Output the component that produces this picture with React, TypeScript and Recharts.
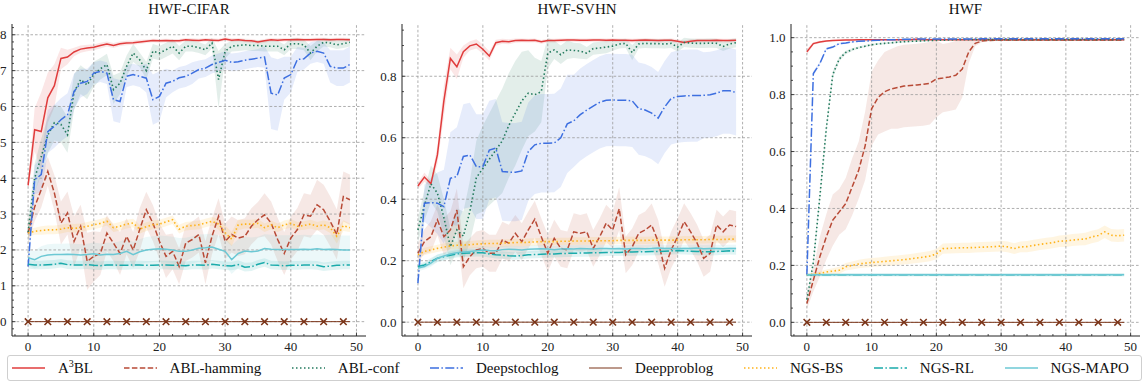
import React from 'react'
import { Area, ComposedChart, Line, ReferenceLine, XAxis, YAxis } from 'recharts'

// epochs on the x axis
const epochs = [
  0, 1, 2, 3, 4, 5, 6, 7, 8, 9, 10, 11, 12, 13, 14, 15, 16, 17, 18, 19, 20, 21, 22, 23, 24,
  25, 26, 27, 28, 29, 30, 31, 32, 33, 34, 35, 36, 37, 38, 39, 40, 41, 42, 43, 44, 45, 46, 47, 48, 49,
]

const xTicks = [0, 10, 20, 30, 40, 50]
const cifarYTicks = [0, 0.1, 0.2, 0.3, 0.4, 0.5, 0.6, 0.7, 0.8]
const svhnYTicks = [0, 0.2, 0.4, 0.6, 0.8]
const hwfYTicks = [0, 0.2, 0.4, 0.6, 0.8, 1.0]

const zeros = [
  0, 0, 0, 0, 0, 0, 0, 0, 0, 0, 0, 0, 0, 0, 0, 0, 0, 0, 0, 0, 0, 0, 0, 0, 0,
  0, 0, 0, 0, 0, 0, 0, 0, 0, 0, 0, 0, 0, 0, 0, 0, 0, 0, 0, 0, 0, 0, 0, 0, 0,
]

// ---------- HWF-CIFAR ----------
const cifarA3bl = [
  0.38, 0.535, 0.53, 0.624, 0.658, 0.734, 0.738, 0.752, 0.76, 0.763,
  0.765, 0.77, 0.774, 0.77, 0.775, 0.777, 0.778, 0.78, 0.782, 0.784,
  0.783, 0.784, 0.783, 0.783, 0.786, 0.785, 0.784, 0.786, 0.785, 0.784,
  0.788, 0.785, 0.786, 0.784, 0.783, 0.78, 0.783, 0.786, 0.785, 0.786,
  0.786, 0.787, 0.786, 0.786, 0.787, 0.787, 0.786, 0.787, 0.787, 0.786,
]
const cifarA3blSd = [
  0.01, 0.06, 0.11, 0.07, 0.06, 0.03, 0.02, 0.012, 0.01, 0.009,
  0.008, 0.008, 0.007, 0.007, 0.006, 0.006, 0.006, 0.006, 0.005, 0.005,
  0.005, 0.005, 0.005, 0.005, 0.005, 0.005, 0.005, 0.005, 0.005, 0.005,
  0.005, 0.005, 0.005, 0.005, 0.005, 0.005, 0.005, 0.005, 0.005, 0.005,
  0.005, 0.005, 0.005, 0.005, 0.005, 0.005, 0.005, 0.005, 0.005, 0.005,
]
const cifarAblHam = [
  0.247, 0.32, 0.368, 0.419, 0.359, 0.275, 0.303, 0.224, 0.266, 0.168,
  0.182, 0.19, 0.247, 0.219, 0.19, 0.238, 0.2, 0.257, 0.312, 0.275,
  0.224, 0.182, 0.196, 0.154, 0.219, 0.229, 0.243, 0.164, 0.238, 0.294,
  0.224, 0.243, 0.233, 0.238, 0.266, 0.284, 0.298, 0.275, 0.229, 0.19,
  0.233, 0.257, 0.298, 0.294, 0.326, 0.312, 0.28, 0.243, 0.349, 0.34,
]
const cifarAblHamSd = [
  0.03, 0.04, 0.05, 0.04, 0.05, 0.06, 0.06, 0.07, 0.06, 0.08,
  0.07, 0.06, 0.05, 0.05, 0.06, 0.05, 0.05, 0.06, 0.05, 0.05,
  0.05, 0.06, 0.05, 0.05, 0.05, 0.05, 0.05, 0.06, 0.05, 0.05,
  0.05, 0.05, 0.05, 0.05, 0.05, 0.05, 0.06, 0.06, 0.06, 0.06,
  0.06, 0.06, 0.06, 0.06, 0.07, 0.07, 0.07, 0.07, 0.07, 0.07,
]
const cifarAblConf = [
  0.25, 0.4, 0.46, 0.52, 0.555, 0.55, 0.521, 0.64, 0.675, 0.66,
  0.69, 0.705, 0.717, 0.647, 0.665, 0.712, 0.749, 0.73, 0.7, 0.754,
  0.749, 0.758, 0.768, 0.749, 0.768, 0.768, 0.764, 0.758, 0.777, 0.675,
  0.754, 0.768, 0.77, 0.772, 0.77, 0.77, 0.768, 0.768, 0.768, 0.758,
  0.775, 0.775, 0.772, 0.749, 0.768, 0.779, 0.777, 0.772, 0.775, 0.779,
]
const cifarAblConfSd = [
  0.03, 0.04, 0.05, 0.05, 0.05, 0.05, 0.05, 0.05, 0.04, 0.04,
  0.035, 0.03, 0.03, 0.04, 0.03, 0.03, 0.025, 0.02, 0.025, 0.02,
  0.02, 0.02, 0.02, 0.02, 0.015, 0.015, 0.015, 0.015, 0.015, 0.08,
  0.02, 0.015, 0.015, 0.015, 0.015, 0.015, 0.015, 0.015, 0.015, 0.015,
  0.015, 0.015, 0.015, 0.02, 0.015, 0.012, 0.012, 0.012, 0.012, 0.012,
]
const cifarDeepStoch = [
  0.154, 0.396, 0.41, 0.53, 0.545, 0.563, 0.577, 0.642, 0.665, 0.67,
  0.693, 0.698, 0.693, 0.619, 0.614, 0.684, 0.689, 0.684, 0.679, 0.619,
  0.628, 0.665, 0.67, 0.68, 0.684, 0.693, 0.703, 0.707, 0.717, 0.723,
  0.729, 0.723, 0.725, 0.729, 0.732, 0.735, 0.738, 0.637, 0.632, 0.679,
  0.689, 0.731, 0.733, 0.749, 0.754, 0.749, 0.712, 0.707, 0.707, 0.717,
]
const cifarDeepStochSd = [
  0.02, 0.04, 0.05, 0.06, 0.06, 0.06, 0.06, 0.05, 0.04, 0.035,
  0.03, 0.03, 0.03, 0.06, 0.06, 0.03, 0.03, 0.03, 0.04, 0.07,
  0.07, 0.04, 0.03, 0.03, 0.03, 0.03, 0.025, 0.025, 0.025, 0.025,
  0.025, 0.025, 0.025, 0.025, 0.025, 0.025, 0.03, 0.1, 0.1, 0.06,
  0.05, 0.035, 0.03, 0.03, 0.03, 0.03, 0.045, 0.05, 0.05, 0.05,
]
const cifarNgsBs = [
  0.247, 0.252, 0.254, 0.256, 0.256, 0.258, 0.262, 0.26, 0.262, 0.266,
  0.27, 0.274, 0.28, 0.262, 0.266, 0.272, 0.275, 0.258, 0.265, 0.27,
  0.272, 0.278, 0.284, 0.258, 0.266, 0.268, 0.27, 0.275, 0.28, 0.272,
  0.248, 0.23, 0.27, 0.272, 0.272, 0.274, 0.262, 0.27, 0.262, 0.27,
  0.274, 0.266, 0.268, 0.272, 0.266, 0.27, 0.262, 0.238, 0.268, 0.262,
]
const cifarNgsBsSd = [
  0.01, 0.01, 0.012, 0.012, 0.012, 0.012, 0.012, 0.012, 0.012, 0.012,
  0.012, 0.012, 0.012, 0.012, 0.012, 0.012, 0.012, 0.012, 0.012, 0.012,
  0.012, 0.012, 0.012, 0.012, 0.012, 0.012, 0.012, 0.012, 0.012, 0.015,
  0.02, 0.02, 0.015, 0.012, 0.012, 0.012, 0.012, 0.012, 0.012, 0.012,
  0.012, 0.012, 0.012, 0.012, 0.012, 0.012, 0.015, 0.02, 0.015, 0.012,
]
const cifarNgsRl = [
  0.16, 0.158, 0.158, 0.159, 0.16, 0.163, 0.159, 0.158, 0.158, 0.159,
  0.157, 0.156, 0.158, 0.158, 0.157, 0.157, 0.158, 0.158, 0.157, 0.157,
  0.158, 0.158, 0.157, 0.157, 0.156, 0.158, 0.158, 0.157, 0.16, 0.158,
  0.156, 0.155, 0.159, 0.152, 0.153, 0.16, 0.165, 0.158, 0.157, 0.156,
  0.157, 0.157, 0.158, 0.158, 0.157, 0.153, 0.155, 0.157, 0.158, 0.158,
]
const cifarNgsRlSd = [
  0.012, 0.012, 0.012, 0.012, 0.012, 0.012, 0.012, 0.012, 0.012, 0.012,
  0.012, 0.012, 0.012, 0.012, 0.012, 0.012, 0.012, 0.012, 0.012, 0.012,
  0.012, 0.012, 0.012, 0.012, 0.012, 0.012, 0.012, 0.012, 0.012, 0.012,
  0.012, 0.012, 0.012, 0.012, 0.012, 0.012, 0.012, 0.012, 0.012, 0.012,
  0.012, 0.012, 0.012, 0.012, 0.012, 0.012, 0.012, 0.012, 0.012, 0.012,
]
const cifarNgsMapo = [
  0.178, 0.173, 0.182, 0.186, 0.187, 0.187, 0.188, 0.187, 0.186, 0.187,
  0.189, 0.186, 0.188, 0.187, 0.19, 0.196, 0.187, 0.195, 0.2, 0.202,
  0.203, 0.202, 0.2, 0.196, 0.196, 0.2, 0.205, 0.206, 0.208, 0.202,
  0.196, 0.173, 0.19, 0.197, 0.195, 0.197, 0.204, 0.202, 0.201, 0.201,
  0.201, 0.201, 0.202, 0.201, 0.203, 0.201, 0.202, 0.201, 0.2, 0.2,
]
const cifarNgsMapoSd = [
  0.02, 0.025, 0.028, 0.03, 0.03, 0.03, 0.03, 0.03, 0.03, 0.03,
  0.032, 0.032, 0.032, 0.033, 0.034, 0.035, 0.035, 0.035, 0.036, 0.036,
  0.037, 0.037, 0.037, 0.037, 0.038, 0.038, 0.038, 0.038, 0.038, 0.038,
  0.038, 0.04, 0.04, 0.04, 0.04, 0.04, 0.04, 0.04, 0.04, 0.04,
  0.04, 0.04, 0.04, 0.04, 0.04, 0.04, 0.04, 0.04, 0.04, 0.04,
]

// ---------- HWF-SVHN ----------
const svhnA3bl = [
  0.443, 0.472, 0.45, 0.544, 0.72, 0.858, 0.831, 0.88, 0.899, 0.905,
  0.888, 0.866, 0.909, 0.914, 0.912, 0.916, 0.917, 0.916, 0.917, 0.912,
  0.916, 0.916, 0.917, 0.918, 0.918, 0.917, 0.917, 0.918, 0.918, 0.917,
  0.918, 0.917, 0.917, 0.916, 0.917, 0.918, 0.917, 0.916, 0.917, 0.917,
  0.914, 0.91, 0.914, 0.916, 0.916, 0.916, 0.917, 0.916, 0.916, 0.917,
]
const svhnA3blSd = [
  0.01, 0.015, 0.01, 0.03, 0.05, 0.035, 0.04, 0.02, 0.015, 0.015,
  0.015, 0.015, 0.01, 0.008, 0.008, 0.007, 0.006, 0.006, 0.006, 0.006,
  0.006, 0.006, 0.006, 0.006, 0.006, 0.006, 0.006, 0.006, 0.006, 0.006,
  0.006, 0.006, 0.006, 0.006, 0.006, 0.006, 0.006, 0.006, 0.006, 0.006,
  0.006, 0.006, 0.006, 0.006, 0.006, 0.006, 0.006, 0.006, 0.006, 0.006,
]
const svhnAblHam = [
  0.224, 0.262, 0.278, 0.333, 0.278, 0.3, 0.365, 0.18, 0.213, 0.235,
  0.24, 0.224, 0.224, 0.267, 0.257, 0.289, 0.262, 0.3, 0.335, 0.278,
  0.224, 0.273, 0.24, 0.235, 0.294, 0.289, 0.294, 0.24, 0.278, 0.322,
  0.3, 0.369, 0.219, 0.245, 0.289, 0.3, 0.316, 0.262, 0.175, 0.235,
  0.278, 0.327, 0.294, 0.257, 0.208, 0.224, 0.316, 0.294, 0.316, 0.311,
]
const svhnAblHamSd = [
  0.03, 0.04, 0.05, 0.05, 0.06, 0.06, 0.07, 0.07, 0.06, 0.06,
  0.06, 0.06, 0.06, 0.06, 0.06, 0.06, 0.06, 0.06, 0.06, 0.06,
  0.06, 0.06, 0.06, 0.06, 0.06, 0.06, 0.06, 0.06, 0.06, 0.06,
  0.06, 0.07, 0.06, 0.06, 0.06, 0.06, 0.07, 0.07, 0.06, 0.06,
  0.06, 0.06, 0.06, 0.06, 0.06, 0.06, 0.05, 0.05, 0.05, 0.05,
]
const svhnAblConf = [
  0.3, 0.38, 0.45, 0.42, 0.34, 0.245, 0.3, 0.28, 0.36, 0.47,
  0.5, 0.53, 0.56, 0.59, 0.64, 0.68, 0.72, 0.745, 0.74, 0.75,
  0.875, 0.886, 0.87, 0.886, 0.884, 0.882, 0.875, 0.89, 0.892, 0.895,
  0.898, 0.905, 0.907, 0.877, 0.905, 0.907, 0.906, 0.906, 0.905, 0.907,
  0.895, 0.91, 0.908, 0.907, 0.907, 0.908, 0.907, 0.897, 0.905, 0.909,
]
const svhnAblConfSd = [
  0.04, 0.05, 0.06, 0.06, 0.06, 0.06, 0.07, 0.08, 0.1, 0.12,
  0.14, 0.15, 0.16, 0.17, 0.17, 0.17, 0.16, 0.14, 0.12, 0.1,
  0.05, 0.03, 0.03, 0.03, 0.025, 0.025, 0.02, 0.02, 0.02, 0.02,
  0.015, 0.015, 0.015, 0.025, 0.015, 0.015, 0.015, 0.015, 0.015, 0.015,
  0.015, 0.015, 0.015, 0.015, 0.015, 0.015, 0.015, 0.015, 0.015, 0.015,
]
const svhnDeepStoch = [
  0.127, 0.387, 0.389, 0.387, 0.376, 0.468, 0.474, 0.539, 0.544, 0.506,
  0.506, 0.56, 0.566, 0.49, 0.488, 0.488, 0.492, 0.555, 0.577, 0.582,
  0.582, 0.583, 0.6, 0.645, 0.655, 0.675, 0.69, 0.703, 0.715, 0.722,
  0.723, 0.722, 0.722, 0.72, 0.695, 0.69, 0.68, 0.664, 0.7, 0.728,
  0.734, 0.736, 0.737, 0.737, 0.738, 0.74, 0.745, 0.753, 0.753, 0.747,
]
const svhnDeepStochSd = [
  0.02, 0.06, 0.08, 0.1, 0.12, 0.15, 0.16, 0.17, 0.17, 0.17,
  0.17, 0.16, 0.16, 0.16, 0.16, 0.16, 0.16, 0.16, 0.16, 0.16,
  0.16, 0.16, 0.16, 0.16, 0.15, 0.15, 0.15, 0.15, 0.15, 0.15,
  0.15, 0.15, 0.15, 0.15, 0.15, 0.15, 0.15, 0.15, 0.15, 0.15,
  0.15, 0.15, 0.15, 0.15, 0.14, 0.14, 0.14, 0.14, 0.14, 0.14,
]
const svhnNgsBs = [
  0.219, 0.23, 0.235, 0.24, 0.244, 0.248, 0.25, 0.251, 0.252, 0.254,
  0.255, 0.256, 0.256, 0.257, 0.258, 0.259, 0.259, 0.26, 0.261, 0.262,
  0.262, 0.262, 0.263, 0.263, 0.264, 0.264, 0.264, 0.265, 0.265, 0.265,
  0.265, 0.266, 0.266, 0.266, 0.266, 0.266, 0.267, 0.267, 0.267, 0.267,
  0.267, 0.268, 0.268, 0.268, 0.268, 0.269, 0.269, 0.269, 0.27, 0.27,
]
const svhnNgsBsSd = [
  0.01, 0.012, 0.012, 0.012, 0.012, 0.012, 0.012, 0.012, 0.012, 0.012,
  0.012, 0.012, 0.012, 0.012, 0.012, 0.012, 0.012, 0.012, 0.012, 0.012,
  0.012, 0.012, 0.012, 0.012, 0.012, 0.012, 0.012, 0.012, 0.012, 0.012,
  0.012, 0.012, 0.012, 0.012, 0.012, 0.012, 0.012, 0.012, 0.012, 0.012,
  0.012, 0.012, 0.012, 0.012, 0.012, 0.012, 0.012, 0.012, 0.012, 0.012,
]
const svhnNgsRl = [
  0.181, 0.186, 0.197, 0.208, 0.213, 0.218, 0.222, 0.224, 0.225, 0.226,
  0.226, 0.222, 0.219, 0.218, 0.216, 0.215, 0.217, 0.219, 0.22, 0.221,
  0.222, 0.222, 0.223, 0.224, 0.224, 0.225, 0.225, 0.226, 0.226, 0.227,
  0.227, 0.227, 0.228, 0.228, 0.229, 0.229, 0.23, 0.23, 0.231, 0.232,
  0.233, 0.232, 0.231, 0.23, 0.229, 0.229, 0.23, 0.231, 0.232, 0.231,
]
const svhnNgsMapo = [
  0.176, 0.181, 0.192, 0.208, 0.215, 0.222, 0.226, 0.228, 0.23, 0.232,
  0.235, 0.233, 0.232, 0.236, 0.237, 0.236, 0.235, 0.237, 0.238, 0.239,
  0.238, 0.236, 0.238, 0.239, 0.238, 0.24, 0.239, 0.238, 0.24, 0.24,
  0.239, 0.24, 0.238, 0.24, 0.24, 0.239, 0.24, 0.241, 0.24, 0.24,
  0.239, 0.24, 0.24, 0.241, 0.239, 0.24, 0.24, 0.239, 0.24, 0.24,
]
const svhnNgsSd = [
  0.01, 0.01, 0.012, 0.012, 0.012, 0.012, 0.012, 0.012, 0.012, 0.012,
  0.012, 0.012, 0.012, 0.012, 0.012, 0.012, 0.012, 0.012, 0.012, 0.012,
  0.012, 0.012, 0.012, 0.012, 0.012, 0.012, 0.012, 0.012, 0.012, 0.012,
  0.012, 0.012, 0.012, 0.012, 0.012, 0.012, 0.012, 0.012, 0.012, 0.012,
  0.012, 0.012, 0.012, 0.012, 0.012, 0.012, 0.012, 0.012, 0.012, 0.012,
]

// ---------- HWF ----------
const hwfA3bl = [
  0.95, 0.979, 0.985, 0.988, 0.99, 0.991, 0.992, 0.992, 0.993, 0.993,
  0.993, 0.993, 0.993, 0.993, 0.993, 0.993, 0.993, 0.994, 0.993, 0.993,
  0.993, 0.993, 0.993, 0.993, 0.993, 0.993, 0.993, 0.993, 0.993, 0.993,
  0.993, 0.993, 0.993, 0.993, 0.993, 0.993, 0.993, 0.993, 0.993, 0.993,
  0.993, 0.993, 0.993, 0.993, 0.993, 0.993, 0.993, 0.993, 0.993, 0.993,
]
const hwfA3blSd = [
  0.01, 0.005, 0.004, 0.003, 0.003, 0.002, 0.002, 0.002, 0.002, 0.002,
  0.002, 0.002, 0.002, 0.002, 0.002, 0.002, 0.002, 0.002, 0.002, 0.002,
  0.002, 0.002, 0.002, 0.002, 0.002, 0.002, 0.002, 0.002, 0.002, 0.002,
  0.002, 0.002, 0.002, 0.002, 0.002, 0.002, 0.002, 0.002, 0.002, 0.002,
  0.002, 0.002, 0.002, 0.002, 0.002, 0.002, 0.002, 0.002, 0.002, 0.002,
]
const hwfAblHam = [
  0.066, 0.148, 0.23, 0.3, 0.359, 0.388, 0.417, 0.476, 0.534, 0.62,
  0.75, 0.79, 0.81, 0.82, 0.825, 0.83, 0.832, 0.834, 0.836, 0.84,
  0.855, 0.858, 0.862, 0.868, 0.89, 0.95, 0.98, 0.988, 0.99, 0.991,
  0.992, 0.992, 0.992, 0.992, 0.992, 0.992, 0.992, 0.992, 0.992, 0.992,
  0.992, 0.992, 0.992, 0.992, 0.992, 0.992, 0.992, 0.992, 0.992, 0.992,
]
const hwfAblHamSd = [
  0.02, 0.04, 0.07, 0.08, 0.09, 0.08, 0.09, 0.1, 0.1, 0.12,
  0.13, 0.13, 0.14, 0.14, 0.145, 0.145, 0.145, 0.145, 0.145, 0.145,
  0.135, 0.12, 0.12, 0.12, 0.1, 0.04, 0.01, 0.004, 0.003, 0.003,
  0.003, 0.003, 0.003, 0.003, 0.003, 0.003, 0.003, 0.003, 0.003, 0.003,
  0.003, 0.003, 0.003, 0.003, 0.003, 0.003, 0.003, 0.003, 0.003, 0.003,
]
const hwfAblConf = [
  0.08, 0.21, 0.44, 0.68, 0.87, 0.925, 0.948, 0.958, 0.965, 0.97,
  0.975, 0.978, 0.98, 0.982, 0.984, 0.986, 0.987, 0.988, 0.989, 0.99,
  0.991, 0.991, 0.992, 0.993, 0.993, 0.993, 0.993, 0.993, 0.993, 0.993,
  0.993, 0.993, 0.993, 0.993, 0.993, 0.993, 0.993, 0.993, 0.993, 0.993,
  0.993, 0.993, 0.993, 0.993, 0.993, 0.993, 0.993, 0.993, 0.993, 0.993,
]
const hwfAblConfSd = [
  0.01, 0.012, 0.015, 0.015, 0.012, 0.008, 0.006, 0.005, 0.004, 0.004,
  0.003, 0.003, 0.003, 0.003, 0.003, 0.003, 0.003, 0.003, 0.003, 0.003,
  0.003, 0.003, 0.003, 0.003, 0.003, 0.003, 0.003, 0.003, 0.003, 0.003,
  0.003, 0.003, 0.003, 0.003, 0.003, 0.003, 0.003, 0.003, 0.003, 0.003,
  0.003, 0.003, 0.003, 0.003, 0.003, 0.003, 0.003, 0.003, 0.003, 0.003,
]
const hwfDeepStoch = [
  0.168, 0.874, 0.909, 0.961, 0.967, 0.979, 0.981, 0.985, 0.987, 0.988,
  0.99, 0.991, 0.992, 0.993, 0.993, 0.994, 0.994, 0.995, 0.995, 0.995,
  0.995, 0.995, 0.995, 0.995, 0.995, 0.995, 0.995, 0.996, 0.996, 0.996,
  0.996, 0.996, 0.996, 0.996, 0.996, 0.996, 0.996, 0.996, 0.996, 0.996,
  0.996, 0.996, 0.996, 0.996, 0.996, 0.996, 0.996, 0.996, 0.996, 0.996,
]
const hwfDeepStochSd = [
  0.003, 0.008, 0.006, 0.004, 0.004, 0.003, 0.003, 0.002, 0.002, 0.002,
  0.002, 0.002, 0.002, 0.002, 0.002, 0.002, 0.002, 0.002, 0.002, 0.002,
  0.002, 0.002, 0.002, 0.002, 0.002, 0.002, 0.002, 0.002, 0.002, 0.002,
  0.002, 0.002, 0.002, 0.002, 0.002, 0.002, 0.002, 0.002, 0.002, 0.002,
  0.002, 0.002, 0.002, 0.002, 0.002, 0.002, 0.002, 0.002, 0.002, 0.002,
]
const hwfNgsBs = [
  0.167, 0.169, 0.172, 0.177, 0.18, 0.183, 0.195, 0.2, 0.205, 0.208,
  0.21, 0.212, 0.214, 0.216, 0.218, 0.22, 0.223, 0.226, 0.229, 0.233,
  0.24, 0.259, 0.26, 0.261, 0.262, 0.262, 0.263, 0.264, 0.265, 0.266,
  0.268, 0.265, 0.259, 0.265, 0.266, 0.27, 0.274, 0.277, 0.28, 0.285,
  0.286, 0.289, 0.291, 0.293, 0.3, 0.305, 0.318, 0.306, 0.304, 0.306,
]
const hwfNgsBsSd = [
  0.003, 0.005, 0.007, 0.009, 0.01, 0.012, 0.013, 0.014, 0.015, 0.015,
  0.016, 0.016, 0.016, 0.017, 0.017, 0.017, 0.017, 0.018, 0.018, 0.018,
  0.018, 0.018, 0.018, 0.018, 0.018, 0.018, 0.018, 0.018, 0.018, 0.018,
  0.019, 0.019, 0.019, 0.019, 0.02, 0.02, 0.02, 0.02, 0.02, 0.02,
  0.021, 0.021, 0.021, 0.022, 0.022, 0.022, 0.022, 0.022, 0.022, 0.022,
]
const hwfNgsFlat = [
  0.167, 0.167, 0.167, 0.167, 0.167, 0.167, 0.167, 0.167, 0.167, 0.167,
  0.167, 0.167, 0.167, 0.167, 0.167, 0.167, 0.167, 0.167, 0.167, 0.167,
  0.167, 0.167, 0.167, 0.167, 0.167, 0.167, 0.167, 0.167, 0.167, 0.167,
  0.167, 0.167, 0.167, 0.167, 0.167, 0.167, 0.167, 0.167, 0.167, 0.167,
  0.167, 0.167, 0.167, 0.167, 0.167, 0.167, 0.167, 0.167, 0.167, 0.167,
]
const hwfNgsFlatSd = [
  0.005, 0.005, 0.005, 0.005, 0.005, 0.005, 0.005, 0.005, 0.005, 0.005,
  0.005, 0.005, 0.005, 0.005, 0.005, 0.005, 0.005, 0.005, 0.005, 0.005,
  0.005, 0.005, 0.005, 0.005, 0.005, 0.005, 0.005, 0.005, 0.005, 0.005,
  0.005, 0.005, 0.005, 0.005, 0.005, 0.005, 0.005, 0.005, 0.005, 0.005,
  0.005, 0.005, 0.005, 0.005, 0.005, 0.005, 0.005, 0.005, 0.005, 0.005,
]

const series = [
  { key: 'a3bl', label: 'A3BL', color: '#e03c3c', dash: undefined, width: 1.5 },
  { key: 'ablHam', label: 'ABL-hamming', color: '#b84a36', dash: '5.5 2.4', width: 1.5 },
  { key: 'ablConf', label: 'ABL-conf', color: '#237a5d', dash: '1.5 2.5', width: 1.6 },
  { key: 'deepStoch', label: 'Deepstochlog', color: '#3d6fe0', dash: '9 2.4 1.5 2.4', width: 1.5 },
  { key: 'deepProb', label: 'Deepproblog', color: '#7b3418', dash: undefined, width: 1 },
  { key: 'ngsBs', label: 'NGS-BS', color: '#ffb31a', dash: '1.5 2.5', width: 1.6 },
  { key: 'ngsRl', label: 'NGS-RL', color: '#1aabab', dash: '9 2.4 1.5 2.4', width: 1.5 },
  { key: 'ngsMapo', label: 'NGS-MAPO', color: '#6cc8d4', dash: undefined, width: 1.5 },
]

const panels = [
  {
    title: 'HWF-CIFAR', left: -30, width: 397,
    yDomain: [-0.04, 0.83], yMajor: cifarYTicks, yMinor: [-0.02, 0.82, 0.02],
    mean: { a3bl: cifarA3bl, ablHam: cifarAblHam, ablConf: cifarAblConf, deepStoch: cifarDeepStoch, deepProb: zeros, ngsBs: cifarNgsBs, ngsRl: cifarNgsRl, ngsMapo: cifarNgsMapo },
    sd: { a3bl: cifarA3blSd, ablHam: cifarAblHamSd, ablConf: cifarAblConfSd, deepStoch: cifarDeepStochSd, ngsBs: cifarNgsBsSd, ngsRl: cifarNgsRlSd, ngsMapo: cifarNgsMapoSd },
  },
  {
    title: 'HWF-SVHN', left: 360, width: 393,
    yDomain: [-0.045, 0.97], yMajor: svhnYTicks, yMinor: [0, 0.95, 0.05],
    mean: { a3bl: svhnA3bl, ablHam: svhnAblHam, ablConf: svhnAblConf, deepStoch: svhnDeepStoch, deepProb: zeros, ngsBs: svhnNgsBs, ngsRl: svhnNgsRl, ngsMapo: svhnNgsMapo },
    sd: { a3bl: svhnA3blSd, ablHam: svhnAblHamSd, ablConf: svhnAblConfSd, deepStoch: svhnDeepStochSd, ngsBs: svhnNgsBsSd, ngsRl: svhnNgsSd, ngsMapo: svhnNgsSd },
  },
  {
    title: 'HWF', left: 749, width: 392,
    yDomain: [-0.048, 1.048], yMajor: hwfYTicks, yMinor: [0, 1.0, 0.05],
    mean: { a3bl: hwfA3bl, ablHam: hwfAblHam, ablConf: hwfAblConf, deepStoch: hwfDeepStoch, deepProb: zeros, ngsBs: hwfNgsBs, ngsRl: hwfNgsFlat, ngsMapo: hwfNgsFlat },
    sd: { a3bl: hwfA3blSd, ablHam: hwfAblHamSd, ablConf: hwfAblConfSd, deepStoch: hwfDeepStochSd, ngsBs: hwfNgsBsSd, ngsRl: hwfNgsFlatSd, ngsMapo: hwfNgsFlatSd },
  },
]

const FONT = '"Liberation Serif", "DejaVu Serif", serif'
const Y_AXIS_W = 42
const CHART_H = 360
const labelStyle = { fontFamily: FONT, fontSize: 13 }

function steps(from: number, to: number, step: number) {
  const out: number[] = []
  for (let v = from; v <= to + 1e-9; v += step) out.push(Math.round(v * 1000) / 1000)
  return out
}

const xAllTicks = steps(-2, 50, 2)

function makeTick(side: string, majors: number[], fmt?: (v: number) => string) {
  return (p: any) => {
    const v = p.payload.value
    const major = majors.some((m) => Math.abs(m - v) < 1e-6)
    const len = major ? 3.5 : 2
    const { x, y } = p
    let c = [x, y, x, y - len]
    if (side === 'top') c = [x, y, x, y + len]
    if (side === 'left') c = [x, y, x + len, y]
    if (side === 'right') c = [x, y, x - len, y]
    return (
      <g key={`${side}-${v}`}>
        <line x1={c[0]} y1={c[1]} x2={c[2]} y2={c[3]} stroke="#222" strokeWidth={0.8} />
        {major && fmt && side === 'bottom' && (
          <text x={x} y={y + 15} textAnchor="middle" style={labelStyle} fill="#222">
            {fmt(v)}
          </text>
        )}
        {major && fmt && side === 'left' && (
          <text x={x - 5.5} y={y + 4.5} textAnchor="end" style={labelStyle} fill="#222">
            {fmt(v)}
          </text>
        )}
      </g>
    )
  }
}

const crossDot = (props: any) => {
  const { cx, cy, index } = props
  if (index % 3 !== 0 || cx == null) return <g key={`m${index}`} />
  const r = 3.3
  return (
    <path
      key={`m${index}`}
      d={`M${cx - r},${cy - r}L${cx + r},${cy + r}M${cx - r},${cy + r}L${cx + r},${cy - r}`}
      stroke="#7b3418"
      strokeWidth={1.5}
      fill="none"
    />
  )
}

function Panel({ panel }: { panel: any }) {
  const rows = epochs.map((e, i) => {
    const r: any = { epoch: e }
    series.forEach((s) => {
      const m = panel.mean[s.key][i]
      r[s.key] = m
      const sd = panel.sd[s.key]
      if (sd) r[s.key + 'Band'] = [m - sd[i], m + sd[i]]
    })
    return r
  })
  const yAll = steps(panel.yMinor[0], panel.yMinor[1], panel.yMinor[2])
  const fmtY = (v: number) => v.toFixed(1)
  const plotLeft = panel.left + Y_AXIS_W
  const plotRight = panel.left + panel.width - 1

  return (
    <>
      <div
        style={{
          position: 'absolute', left: plotLeft, top: 0, width: plotRight - plotLeft,
          textAlign: 'center', fontFamily: FONT, fontSize: 15, lineHeight: '18px', color: '#111',
        }}
      >
        {panel.title}
      </div>
      <div style={{ position: 'absolute', left: panel.left, top: 0 }}>
        <ComposedChart width={panel.width} height={CHART_H} data={rows} margin={{ top: 24, right: 1, bottom: 4, left: 0 }}>
          <XAxis
            dataKey="epoch" type="number" domain={[-2.45, 51.45]} ticks={xAllTicks} interval={0}
            allowDataOverflow height={20} tickSize={0} tickMargin={0} tickLine={false}
            axisLine={{ stroke: '#222', strokeWidth: 1 }} tick={makeTick('bottom', xTicks, (v) => String(v))}
          />
          <XAxis
            xAxisId="top" orientation="top" type="number" domain={[-2.45, 51.45]} ticks={xAllTicks} interval={0}
            allowDataOverflow height={0} tickSize={0} tickMargin={0} tickLine={false}
            axisLine={{ stroke: '#222', strokeWidth: 1 }} tick={makeTick('top', xTicks)}
          />
          <YAxis
            type="number" domain={panel.yDomain} ticks={yAll} interval={0} allowDataOverflow width={Y_AXIS_W}
            tickSize={0} tickMargin={0} tickLine={false}
            axisLine={{ stroke: '#222', strokeWidth: 1 }} tick={makeTick('left', panel.yMajor, fmtY)}
          />
          <YAxis
            yAxisId="right" orientation="right" type="number" domain={panel.yDomain} ticks={yAll} interval={0}
            allowDataOverflow width={0} tickSize={0} tickMargin={0} tickLine={false}
            axisLine={{ stroke: '#222', strokeWidth: 1 }} tick={makeTick('right', panel.yMajor)}
          />
          {xTicks.map((v) => (
            <ReferenceLine key={`gx${v}`} x={v} stroke="#9a9a9a" strokeWidth={0.8} strokeDasharray="2.6 2" />
          ))}
          {panel.yMajor.map((v: number) => (
            <ReferenceLine key={`gy${v}`} y={v} stroke="#9a9a9a" strokeWidth={0.8} strokeDasharray="2.6 2" />
          ))}
          {series
            .filter((s) => panel.sd[s.key])
            .map((s) => (
              <Area
                key={`band-${s.key}`} type="linear" dataKey={s.key + 'Band'} stroke="none"
                fill={s.color} fillOpacity={0.13} isAnimationActive={false} dot={false} activeDot={false}
              />
            ))}
          {series.map((s) => (
            <Line
              key={s.key} type="linear" dataKey={s.key} stroke={s.color} strokeWidth={s.width}
              strokeDasharray={s.dash} dot={s.key === 'deepProb' ? crossDot : false} activeDot={false}
              isAnimationActive={false}
            />
          ))}
        </ComposedChart>
      </div>
    </>
  )
}

function LegendBox() {
  return (
    <div
      style={{
        position: 'absolute', left: 7, top: 355, width: 1135, height: 26, boxSizing: 'border-box',
        border: '1px solid #cfcfcf', borderRadius: 3, display: 'flex', justifyContent: 'space-between',
        alignItems: 'center', padding: '0 12px 0 4px', fontFamily: FONT, fontSize: 15, color: '#111',
        background: '#fff',
      }}
    >
      {series.map((s) => (
        <div key={s.key} style={{ display: 'flex', alignItems: 'center', lineHeight: '18px' }}>
          <svg width={33} height={10}>
            <line x1={0} y1={5} x2={33} y2={5} stroke={s.color} strokeWidth={s.width} strokeDasharray={s.dash} />
          </svg>
          <span style={{ marginLeft: 13 }}>
            {s.key === 'a3bl' ? (
              <>
                A<sup style={{ fontSize: 10, lineHeight: 0 }}>3</sup>BL
              </>
            ) : (
              s.label
            )}
          </span>
        </div>
      ))}
    </div>
  )
}

export default function App() {
  return (
    <div style={{ position: 'absolute', left: 0, top: 0, width: 1145, height: 385, overflow: 'hidden', background: '#fff' }}>
      {panels.map((p) => (
        <Panel key={p.title} panel={p} />
      ))}
      <LegendBox />
    </div>
  )
}
